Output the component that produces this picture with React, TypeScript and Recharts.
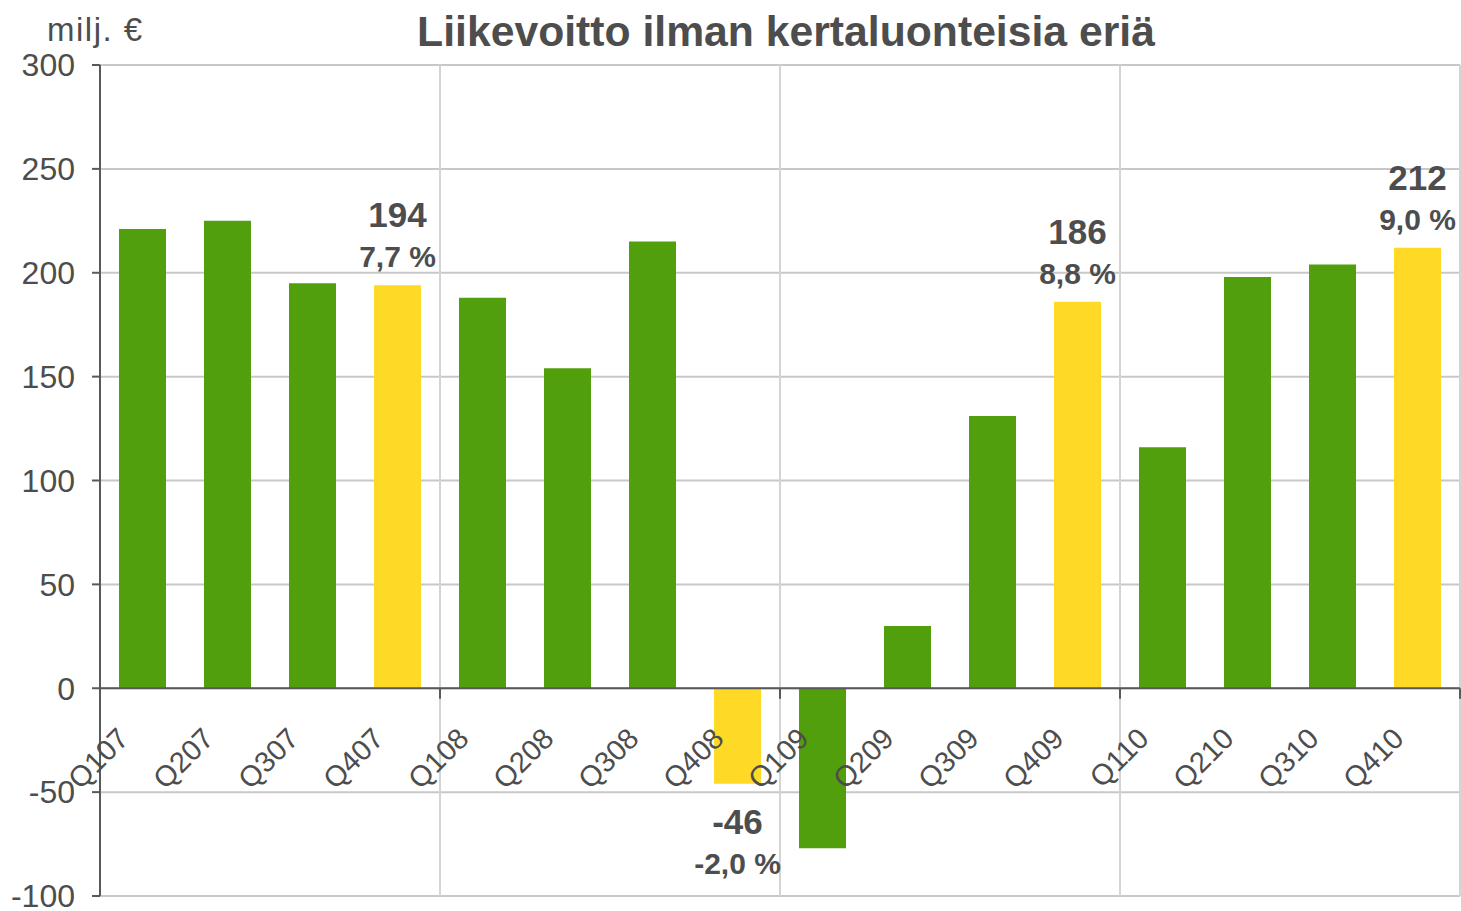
import React from 'react';
import {
  ComposedChart,
  Bar,
  XAxis,
  YAxis,
  CartesianGrid,
  ReferenceLine,
  ReferenceDot,
  Cell,
  LabelList,
} from 'recharts';

const quarters = [
  'Q107', 'Q207', 'Q307', 'Q407',
  'Q108', 'Q208', 'Q308', 'Q408',
  'Q109', 'Q209', 'Q309', 'Q409',
  'Q110', 'Q210', 'Q310', 'Q410',
];
const profit = [221, 225, 195, 194, 188, 154, 215, -46, -77, 30, 131, 186, 116, 198, 204, 212];
const marginPct = [
  null, null, null, '7,7 %',
  null, null, null, '-2,0 %',
  null, null, null, '8,8 %',
  null, null, null, '9,0 %',
];
const yTicks = [-100, -50, 0, 50, 100, 150, 200, 250, 300];
const yearEdges = [0, 4, 8, 12, 16];

const GREEN = '#519f0c';
const YELLOW = '#fed925';
const TEXT = '#4d4d4d';
const AXIS = '#595959';
const FONT = '"Liberation Sans", Arial, sans-serif';

const data = quarters.map((q, i) => ({
  q,
  value: profit[i],
  pct: marginPct[i],
  pos: i + 0.5,
}));

// value + margin labels only for Q4 bars
const renderValueLabel = (props: any) => {
  const vb = props.viewBox || props;
  const { index, value } = props;
  const pct = marginPct[index];
  if (!pct) return null;
  const cx = vb.x + vb.width / 2;
  const y1 = vb.y;
  const y2 = vb.y + vb.height;
  const up = value >= 0;
  const edge = up ? Math.min(y1, y2) : Math.max(y1, y2);
  return (
    <g>
      <text x={cx} y={up ? edge - 58 : edge + 50} textAnchor="middle" fontSize={35} fontWeight="bold" fill={TEXT} fontFamily={FONT}>
        {value}
      </text>
      <text x={cx} y={up ? edge - 18 : edge + 90} textAnchor="middle" fontSize={30} fontWeight="bold" fill={TEXT} fontFamily={FONT}>
        {pct}
      </text>
    </g>
  );
};

const quarterLabel = (q: string) => (p: any) => {
  const x = p.cx - 12;
  const y = p.cy + 52;
  return (
    <text x={x} y={y} transform={`rotate(-45 ${x} ${y})`} textAnchor="end" fontSize={29} fill={TEXT} fontFamily={FONT}>
      {q}
    </text>
  );
};

export default function App() {
  return (
    <div style={{ position: 'relative', width: 1461, height: 911, fontFamily: FONT, background: '#fff' }}>
      <style>{'body { margin: 0; }'}</style>
      <div style={{ position: 'absolute', left: 47, top: 13, fontSize: 33, lineHeight: 1, letterSpacing: 1.5, color: TEXT, whiteSpace: 'nowrap' }}>
        milj. €
      </div>
      <div style={{ position: 'absolute', left: 0, width: 1572, top: 10, textAlign: 'center', fontSize: 42.7, fontWeight: 'bold', lineHeight: 1, color: TEXT, whiteSpace: 'nowrap' }}>
        Liikevoitto ilman kertaluonteisia eriä
      </div>
      <ComposedChart
        width={1461}
        height={911}
        data={data}
        margin={{ top: 65, right: 1, bottom: 15, left: 0 }}
        style={{ fontFamily: FONT }}
      >
        <CartesianGrid vertical={false} stroke="#c8c8c8" strokeWidth={2} />
        <XAxis dataKey="q" hide />
        <XAxis xAxisId="yr" type="number" dataKey="pos" domain={[0, 16]} ticks={yearEdges} allowDataOverflow hide />
        <YAxis
          domain={[-100, 300]}
          ticks={yTicks}
          interval={0}
          width={100}
          tickSize={8}
          tickMargin={17}
          axisLine={{ stroke: AXIS, strokeWidth: 2 }}
          tickLine={{ stroke: AXIS, strokeWidth: 2 }}
          tick={{ fill: TEXT, fontSize: 32 }}
          allowDataOverflow
        />
        {yearEdges.slice(1).map((e) => (
          <ReferenceLine key={`v${e}`} xAxisId="yr" x={e} stroke="#d4d4d4" strokeWidth={2} />
        ))}
        <Bar dataKey="value" barSize={47} isAnimationActive={false}>
          {data.map((d) => (
            <Cell key={d.q} fill={d.pct ? YELLOW : GREEN} />
          ))}
          <LabelList dataKey="value" content={renderValueLabel} />
        </Bar>
        <ReferenceLine y={0} stroke={AXIS} strokeWidth={2} />
        {yearEdges.map((e) => (
          <ReferenceLine
            key={`t${e}`}
            xAxisId="yr"
            segment={[{ x: e, y: 0 }, { x: e, y: -5 }]}
            stroke={AXIS}
            strokeWidth={2}
            ifOverflow="visible"
          />
        ))}
        {quarters.map((q) => (
          <ReferenceDot key={q} x={q} y={0} r={0} ifOverflow="visible" shape={quarterLabel(q)} />
        ))}
      </ComposedChart>
    </div>
  );
}
